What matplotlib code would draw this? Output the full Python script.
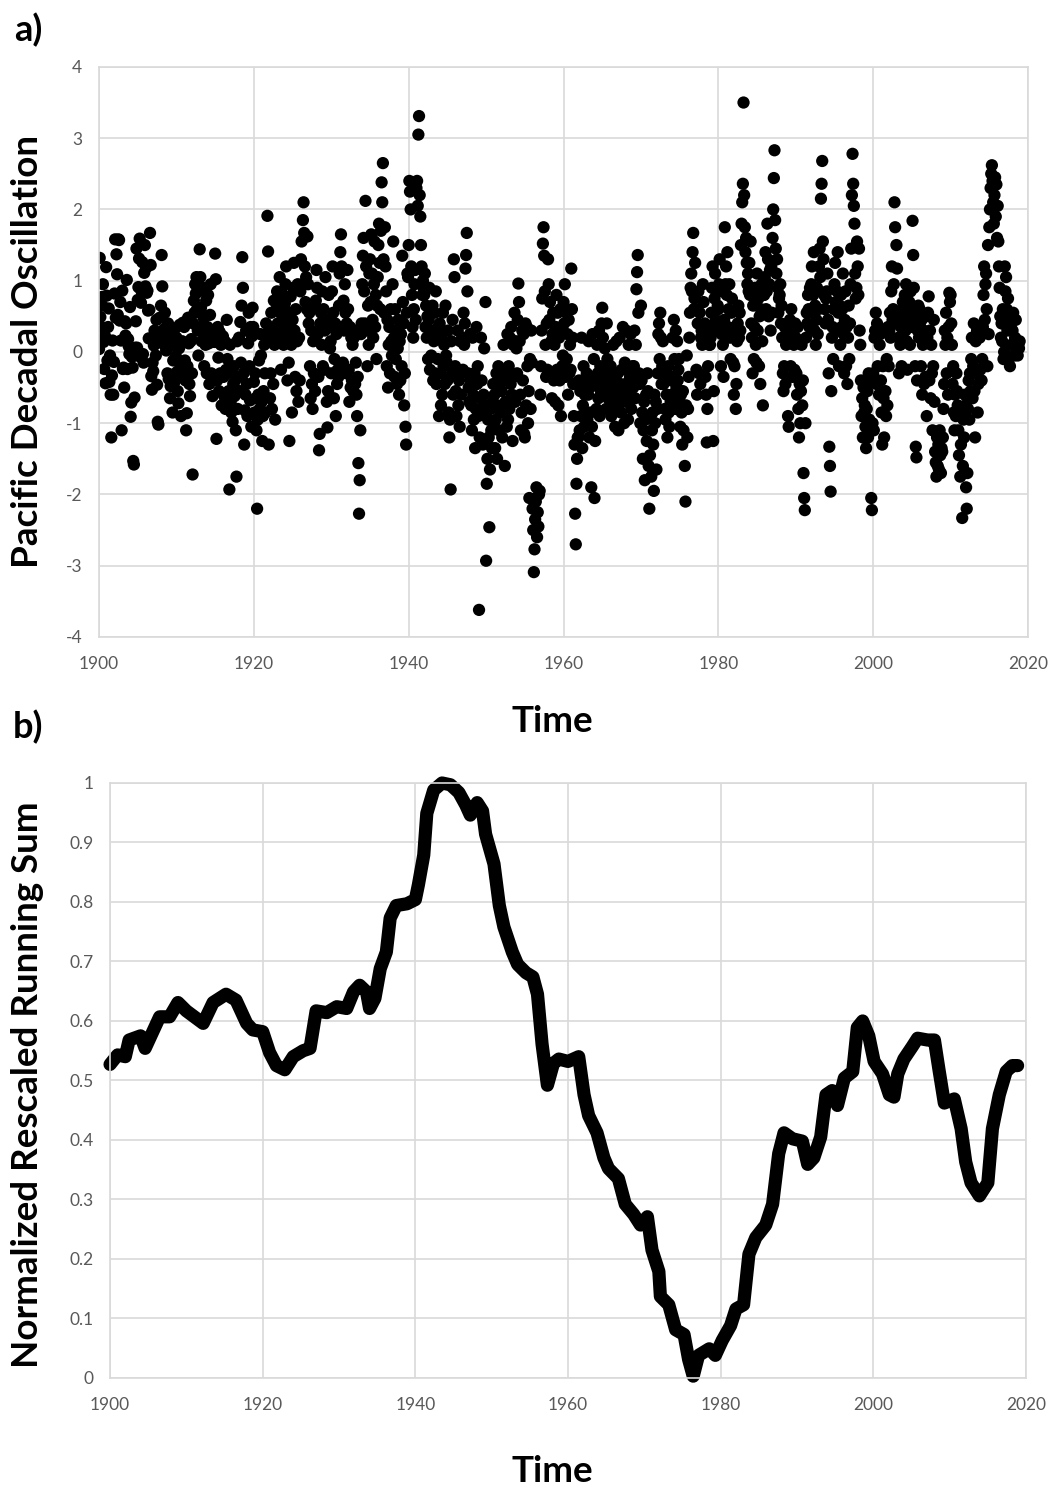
import matplotlib
matplotlib.use("Agg")
import matplotlib.pyplot as plt
from matplotlib.ticker import FuncFormatter
import numpy as np

# monthly PDO values, one list per decade
pdo_1900s = [
    0.04, 1.32, 0.49, 0.35, 0.77, 0.65, 0.95, 0.14, -0.24, 0.23, -0.44, 1.19,
    0.79, -0.12, 0.35, 0.61, -0.42, -0.05, -0.60, -1.20, -0.33, 0.16, -0.60, -0.14,
    0.82, 1.58, 0.48, 1.37, 1.09, 0.52, 1.58, 1.57, 0.44, 0.70, 0.16, -1.10,
    0.86, -0.24, -0.22, -0.50, 0.43, 0.23, 0.40, 1.01, -0.24, 0.18, 0.08, -0.03,
    0.63, -0.91, -0.71, -0.07, -0.22, -1.53, -1.58, -0.64, 0.06, 0.43, 1.45, 0.06,
    0.73, 0.91, 1.31, 1.59, -0.07, 0.69, 0.85, 1.26, -0.03, -0.15, 1.11, 1.50,
    0.92, 1.18, 0.83, 0.86, 0.58, 0.19, 0.59, 1.67, 1.22, -0.34, -0.53, -0.15,
    -0.27, 0.09, 0.30, 0.12, -0.05, 0.45, -0.46, -0.98, -1.02, 0.22, 0.48, 0.25,
    0.65, 1.36, 0.92, 0.24, 0.11, 0.32, 0.55, 0.18, 0.02, 0.27, -0.30, 0.40,
    -0.38, 0.10, -0.65, -0.48, 0.21, -0.32, -0.85, -0.12, 0.09, -0.42, 0.33, -0.06,
]
pdo_1910s = [
    0.20, -0.28, -0.55, -0.72, 0.05, 0.38, -0.18, -0.90, -0.35, 0.15, 0.41, -0.22,
    0.35, -0.12, -0.40, -1.10, -0.86, -0.20, 0.48, 0.12, -0.45, -0.62, 0.15, 0.18,
    -0.30, -1.72, 0.40, 0.72, 0.55, 0.95, 0.82, 1.05, 0.60, 0.30, -0.05, 0.85,
    1.44, 1.05, 0.62, 0.15, 0.35, 0.90, 0.48, -0.20, 0.25, 0.10, 0.72, -0.30,
    0.35, 0.80, 0.12, -0.45, 0.52, 0.95, -0.30, 0.20, -0.62, 0.30, 0.15, 0.14,
    1.38, 1.02, -1.22, -0.40, 0.35, -0.08, -0.55, 0.28, -0.30, 0.10, -0.75, 0.17,
    0.22, -0.35, -0.62, 0.15, -0.80, -0.25, 0.45, -0.10, -0.72, -0.55, -1.93, 0.10,
    -0.70, -0.85, -0.30, -0.98, -0.45, -0.20, -0.62, -0.40, -1.10, -1.75, 0.15, -0.80,
    -0.35, 0.20, -0.55, 0.42, -0.15, 0.65, 1.33, 0.90, -0.30, -1.30, -0.82, -0.60,
    0.30, -0.45, -0.90, 0.12, 0.55, -0.20, -0.68, 0.35, -1.05, 0.22, 0.62, 0.35,
]
pdo_1920s = [
    -0.42, -0.85, -0.30, -0.65, -1.10, -2.20, -0.95, -0.60, -0.12, -0.80, 0.25, -0.05,
    -0.70, -1.25, -0.90, -0.55, 0.10, -0.30, -0.85, 0.40, 0.25, 1.91, 1.41, -1.30,
    0.35, -0.65, -0.30, 0.55, -0.80, 0.20, -0.45, 0.72, 0.10, -0.95, 0.25, 0.60,
    0.85, 0.40, 0.72, 0.15, 1.05, 0.55, -0.25, 0.30, 0.82, 0.65, 0.10, 0.45,
    0.68, 0.95, 1.20, 0.35, -0.40, 0.20, -0.15, -1.25, 0.55, 0.78, 0.10, -0.85,
    0.45, 0.90, 1.25, 0.30, -0.35, 0.60, -0.55, 0.15, 0.95, -0.70, 0.20, -0.40,
    0.85, 1.30, 1.55, 0.95, 1.85, 2.10, 1.67, 1.20, 0.70, 1.05, 0.60, 1.62,
    0.95, 0.40, 0.55, -0.20, -0.65, 0.30, -0.45, -0.80, 0.15, -0.30, 0.62, -0.55,
    0.72, 1.15, 0.90, 0.25, -0.35, -1.38, -1.15, 0.40, 0.55, 0.10, 0.85, -0.20,
    0.60, -0.25, 0.30, 1.05, 0.45, -0.70, -1.06, -0.55, 0.80, 0.35, 0.05, 0.15,
]
pdo_1930s = [
    -0.30, 0.85, 1.20, 0.55, -0.65, -0.10, 0.40, -0.90, 0.25, -0.45, -0.25, -0.35,
    0.65, 1.10, 1.40, 1.65, 1.20, 0.35, -0.15, 0.72, 0.30, 0.95, 0.55, -0.30,
    0.40, 1.15, 0.60, -0.25, -0.70, 0.35, -0.50, 0.20, -0.40, 0.10, -0.55, 0.20,
    0.30, -0.45, -0.15, -0.60, -0.90, -0.35, -1.56, -2.27, -1.80, -1.10, 0.25, 0.40,
    0.95, 1.35, 1.60, 0.85, 0.40, 2.12, 1.20, 0.30, -0.20, 0.65, 0.10, 1.10,
    1.30, 0.70, 1.65, 1.10, 0.45, 0.20, 0.95, 1.55, 0.35, 0.80, -0.10, 0.65,
    1.05, 1.50, 1.80, 1.25, 0.60, 1.70, 2.38, 2.10, 2.65, 1.30, 0.55, 1.75,
    1.20, 0.85, -0.20, 0.45, -0.50, 0.10, 0.35, -0.30, 0.60, 0.15, -0.05, 0.95,
    1.55, 0.20, -0.35, 0.60, -0.10, 0.30, -0.45, 0.05, 0.45, -0.60, 0.15, -0.40,
    0.25, -0.20, 1.35, 0.70, 0.40, -0.75, -0.30, -1.05, -1.30, 0.55, 1.10, 1.05,
]
pdo_1940s = [
    1.50, 2.40, 2.25, 2.00, 1.20, 0.80, 0.35, 0.20, 0.60, 0.95, 1.15, 0.45,
    2.30, 2.40, 2.05, 3.05, 3.31, 2.20, 1.90, 1.50, 1.20, 0.80, 1.00, 0.90,
    0.80, 1.10, 0.35, 0.65, 0.20, 0.50, -0.10, 0.45, 0.90, -0.25, 0.60, -0.05,
    0.30, 0.65, -0.40, 0.15, 0.55, -0.30, 0.85, -0.45, 0.20, -0.10, 0.35, -0.90,
    0.40, -0.30, -0.75, 0.20, -0.60, 0.55, -0.20, 0.10, -0.45, 0.65, -0.05, -0.15,
    -0.40, 0.30, -0.85, -1.20, -0.95, -1.93, 0.15, -0.30, 0.45, -0.60, 1.30, 1.05,
    -0.20, -0.55, -0.90, -0.35, 0.30, -0.75, -0.40, -1.05, 0.15, -0.60, -0.30, 0.20,
    -0.25, 0.55, 0.10, 0.40, 1.17, 1.36, 1.67, 0.85, -0.30, -0.50, -0.70, 0.25,
    -0.40, -0.75, -1.10, 0.20, -0.60, -0.95, -0.30, -1.35, -0.80, 0.35, -0.45, -0.20,
    -0.90, -3.62, -1.20, -0.65, 0.20, -0.40, -0.85, -1.30, -0.60, 0.05, -0.75, 0.70,
]
pdo_1950s = [
    -2.93, -1.85, -1.50, -0.95, -1.20, -2.46, -1.65, -0.80, -1.10, -1.35, -0.70, -0.45,
    -1.00, -0.60, -1.35, -0.95, -0.30, -1.50, -0.75, -0.20, -1.10, -0.45, -0.85, -0.25,
    -0.55, -1.20, -0.40, 0.10, -0.85, -1.60, -0.70, -0.30, -1.05, 0.25, -0.95, -0.20,
    -0.80, 0.20, -0.45, 0.35, -0.60, -1.25, 0.10, -0.35, 0.55, -0.70, 0.15, 0.05,
    -0.30, 0.45, 0.96, 0.70, 0.15, -0.60, -1.10, -0.85, 0.30, -0.40, 0.25, -1.15,
    -1.20, 0.40, -0.75, 0.35, -0.20, -1.00, -0.55, -2.05, -0.10, -0.80, 0.30, -0.15,
    -2.20, -2.50, -3.09, -2.77, -2.35, -2.10, -1.90, -2.60, -2.25, -2.45, -2.00, -1.95,
    -0.60, -0.20, 0.30, 0.75, 1.52, 1.75, 1.35, 0.85, 0.10, -0.35, 0.40, -0.25,
    1.30, 0.95, 0.45, 0.70, -0.30, 0.15, -0.65, 0.25, 0.55, -0.40, 0.10, -0.70,
    0.35, 0.80, -0.25, 0.55, -0.75, 0.20, -0.40, 0.60, -0.90, 0.30, -0.20, -0.05,
]
pdo_1960s = [
    0.70, 0.40, 0.95, -0.35, 0.55, -0.10, 0.25, -0.60, 0.45, -0.30, 0.10, -0.25,
    1.17, 0.60, 0.20, -0.45, -0.90, -1.30, -2.27, -2.70, -1.85, -1.50, -1.20, -1.20,
    -0.40, -1.10, -0.55, -0.90, 0.20, -1.35, -0.75, -0.20, -1.05, -0.60, -0.85, -0.45,
    -0.30, -0.95, -0.60, 0.15, -1.20, -0.50, -0.85, -1.90, -1.05, 0.25, -0.40, -0.10,
    -2.05, -1.25, -0.45, -0.80, 0.10, -0.30, -0.65, 0.30, -0.90, -0.20, -0.55, 0.40,
    0.62, 0.20, -0.35, -0.60, 0.05, -0.45, -0.80, 0.40, -0.10, -0.65, -0.25, -0.45,
    -0.55, -0.20, -0.90, -0.35, -0.65, 0.10, -0.75, -0.40, -1.05, -0.30, 0.15, -0.50,
    -0.30, -1.10, -0.60, 0.20, -0.45, -0.85, -0.25, -0.70, 0.35, -0.55, -1.00, -0.15,
    -0.45, 0.30, -0.70, -0.20, -0.95, 0.10, -0.55, -0.35, 0.25, -0.80, -0.40, -0.20,
    -0.50, -0.20, 0.30, -0.65, 0.10, 0.88, 1.12, 1.36, 0.55, -0.30, -0.45, -1.00,
]
pdo_1970s = [
    0.65, -0.40, -0.85, -1.50, -1.10, -0.70, -1.80, -0.95, -0.60, -1.25, -0.30, -0.55,
    -1.60, -2.20, -1.45, -0.90, -1.75, -1.10, -0.85, -1.30, -1.95, -0.60, -1.00, -0.70,
    -1.65, -0.80, -0.30, 0.25, 0.40, -0.10, 0.55, 0.20, -0.45, -0.20, 0.15, -0.45,
    -0.30, -0.80, -0.95, -0.40, -0.60, -1.20, -0.20, -0.85, -1.05, -0.35, -0.70, -0.40,
    -0.60, 0.20, -0.35, 0.45, -0.10, -0.80, 0.30, -0.50, 0.15, -0.40, -0.25, -0.10,
    -0.70, -1.05, -0.60, -0.85, -1.30, -0.55, -1.10, -0.80, -1.60, -2.10, -0.75, -0.05,
    -1.20, -0.80, -0.35, 0.20, 0.55, 0.90, 1.10, 0.85, 1.40, 1.67, 0.60, 0.75,
    1.25, 0.60, -0.25, -0.60, 0.40, 0.85, -0.30, 0.55, -0.45, 0.20, 0.30, 0.10,
    0.95, 0.70, 0.25, 0.40, -0.35, -0.60, -1.27, -0.80, -0.20, 0.35, 0.10, 0.10,
    0.20, 0.55, 0.90, 1.20, -1.25, -0.55, 0.75, 1.10, 0.45, 0.85, 0.30, 0.65,
]
pdo_1980s = [
    0.60, 0.95, 1.30, 0.40, -0.20, 0.25, 0.85, 0.10, -0.35, 0.45, 1.75, 0.95,
    1.20, 0.80, 1.40, 0.35, 0.60, 0.95, 0.20, -0.10, 0.55, 0.75, 0.30, -0.15,
    -0.60, -0.20, 0.35, -0.80, -0.45, 0.15, 0.40, 0.65, 0.20, 0.55, 0.30, 1.50,
    1.80, 2.10, 2.36, 3.50, 2.20, 1.75, 1.40, 1.60, 1.25, 0.95, 1.10, 0.85,
    1.25, 0.80, 1.55, 0.40, 0.20, -0.30, 0.65, -0.10, 0.35, 0.90, 0.10, -0.15,
    1.10, 0.30, 0.75, -0.20, 0.50, -0.45, 0.60, 0.95, 0.15, -0.75, 0.80, 0.80,
    1.05, 1.40, 0.60, 0.85, 1.80, 1.30, 0.50, 0.95, 1.15, 0.30, 1.20, 0.55,
    1.60, 2.00, 2.44, 2.83, 1.85, 1.45, 1.10, 1.30, 0.90, 0.55, 0.75, 0.80,
    0.95, 0.40, 0.65, 0.20, -0.30, -0.55, -0.20, 0.35, -0.45, 0.10, 0.30, 0.15,
    -0.90, -1.05, 0.30, 0.45, -0.20, 0.60, 0.15, -0.35, 0.40, 0.10, -0.25, 0.40,
]
pdo_1990s = [
    0.20, -0.30, -0.60, 0.35, -0.80, -1.20, -0.45, -1.00, -0.55, 0.10, -0.75, -0.40,
    -1.70, -2.05, -2.22, -1.00, 0.20, 0.55, 0.40, 0.80, 0.60, 0.35, 0.90, 0.85,
    0.95, 1.20, 0.55, 0.80, 1.40, 0.30, 0.65, 0.10, 0.45, 0.90, 0.25, 0.60,
    1.20, 1.45, 1.05, 2.15, 2.36, 2.68, 1.55, 1.30, 0.80, 0.60, 0.40, 0.75,
    0.85, 1.10, 0.45, -0.30, -1.33, -1.60, -1.96, -0.55, 0.20, 0.35, -0.10, 0.60,
    0.95, 1.25, 0.70, 0.30, 0.85, 1.40, 0.55, -0.20, 0.65, 0.10, 0.80, 0.35,
    0.60, 1.10, 0.25, -0.30, 0.45, 0.85, -0.20, 0.35, -0.45, 0.20, 0.65, -0.10,
    0.40, 0.95, 1.45, 2.20, 2.78, 2.36, 2.05, 1.80, 1.10, 0.75, 0.90, 1.55,
    1.20, 0.80, 1.45, 0.30, 0.10, -0.40, -0.90, -0.65, -1.20, -0.50, -0.85, -0.75,
    -1.05, -1.35, -0.80, -0.55, -1.20, -0.30, -0.95, -0.40, -1.10, -2.05, -2.22, -1.00,
]
pdo_2000s = [
    -0.30, -1.10, 0.20, 0.30, 0.55, -0.45, 0.40, -0.20, 0.35, -0.60, 0.10, 0.25,
    -0.40, -0.85, -1.30, -0.20, -0.65, -1.20, 0.30, -0.55, -0.90, -0.10, -0.75, 0.35,
    -0.20, 0.30, 0.55, 0.20, 0.85, 1.20, 0.45, 0.60, 0.95, 2.10, 1.75, 0.40,
    1.50, 1.17, 0.40, 0.20, -0.30, 0.55, 0.10, 0.35, -0.20, 0.45, 0.70, 0.60,
    0.50, 0.80, 0.30, 0.95, 0.15, -0.25, 0.60, 0.40, 0.70, 0.10, 0.85, 0.35,
    0.45, 1.84, 1.36, 0.90, 0.55, -0.20, -1.33, -1.48, -0.40, 0.30, 0.65, 0.20,
    0.60, 0.35, -0.20, 0.45, -0.60, 0.10, 0.30, -0.45, 0.20, -0.35, 0.50, -0.90,
    0.20, 0.55, 0.78, -0.40, 0.30, -0.65, 0.10, -0.30, -1.10, -0.20, 0.45, -0.70,
    -1.40, -1.55, -1.75, -1.20, -1.60, -1.30, -1.65, -1.10, -1.45, -1.70, -1.35, -1.40,
    -1.20, -0.80, -0.45, 0.30, 0.10, 0.55, -0.30, 0.20, -0.60, 0.35, 0.83, 0.70,
]
pdo_2010s = [
    0.80, 0.40, 0.10, -0.45, -0.20, -0.85, -1.10, -0.60, -0.90, -0.30, -0.55, -0.75,
    -1.10, -1.45, -0.90, -1.75, -1.30, -0.85, -2.33, -1.60, -0.95, -1.20, -0.60, -0.75,
    -1.90, -2.20, -1.70, -0.80, -0.40, -0.95, -0.30, -0.55, -0.10, 0.20, -0.65, -0.20,
    0.40, -0.55, -1.20, 0.15, -0.30, 0.30, -0.85, -0.45, 0.35, 0.20, -0.25, 0.25,
    -0.40, -0.10, 0.35, 0.80, 1.20, 0.45, 0.95, 1.10, 0.60, -0.20, 1.50, 0.25,
    1.75, 2.00, 2.30, 2.50, 2.62, 2.40, 2.10, 1.80, 2.20, 2.45, 1.90, 2.35,
    1.60, 2.05, 1.55, 1.20, 0.90, 0.50, 0.20, 0.40, 0.15, 0.60, -0.10, 0.00,
    1.20, 0.85, 1.05, 0.60, 0.30, 0.75, -0.10, 0.45, -0.20, 0.35, 0.10, 0.50,
    0.30, 0.55, 0.10, -0.05, 0.20, 0.45, 0.00, 0.15, -0.05, 0.10, 0.05, 0.15,
]

# normalized rescaled running sum
rs_years = [
    1900.0, 1901.0, 1902.0, 1902.5, 1904.0, 1904.6, 1905.6, 1906.5, 1907.8, 1908.9,
    1910.0, 1912.2, 1913.5, 1915.2, 1916.5, 1917.9, 1918.7, 1920.0, 1920.9, 1921.8,
    1922.9, 1924.0, 1925.3, 1926.2, 1927.0, 1928.4, 1929.7, 1931.0, 1931.9, 1932.7,
    1933.6, 1934.0, 1934.7, 1935.4, 1936.2, 1936.7, 1937.5, 1938.9, 1940.0, 1940.4,
    1941.1, 1941.5, 1942.4, 1943.5, 1944.6, 1945.7, 1946.6, 1947.2, 1948.1, 1948.8,
    1949.2, 1950.3, 1951.0, 1951.6, 1952.7, 1953.4, 1954.5, 1955.4, 1956.0, 1956.6,
    1957.3, 1958.1, 1958.8, 1960.0, 1961.4, 1962.1, 1962.7, 1963.8, 1964.7, 1965.3,
    1966.6, 1967.5, 1968.6, 1969.5, 1970.4, 1971.0, 1971.9, 1972.1, 1973.2, 1974.1,
    1975.2, 1975.8, 1976.4, 1977.1, 1978.5, 1979.3, 1980.2, 1981.3, 1982.0, 1983.0,
    1983.7, 1984.6, 1985.9, 1986.8, 1987.6, 1988.3, 1989.4, 1990.7, 1991.4, 1992.2,
    1993.1, 1993.8, 1994.6, 1995.3, 1996.2, 1997.3, 1997.9, 1998.6, 1999.4, 2000.1,
    2001.2, 2002.1, 2002.7, 2003.2, 2004.0, 2005.1, 2005.8, 2007.1, 2008.0, 2008.6,
    2009.3, 2010.6, 2011.5, 2012.1, 2012.8, 2013.9, 2015.0, 2015.6, 2016.5, 2017.4,
    2018.2, 2018.9,
]
rs_values = [
    0.527, 0.543, 0.540, 0.568, 0.575, 0.554, 0.582, 0.607, 0.607, 0.631,
    0.617, 0.596, 0.631, 0.645, 0.635, 0.596, 0.585, 0.582, 0.547, 0.525,
    0.518, 0.540, 0.550, 0.554, 0.617, 0.614, 0.624, 0.621, 0.649, 0.660,
    0.649, 0.621, 0.638, 0.688, 0.716, 0.773, 0.794, 0.797, 0.804, 0.829,
    0.879, 0.949, 0.988, 1.000, 0.997, 0.984, 0.963, 0.946, 0.967, 0.953,
    0.914, 0.864, 0.794, 0.758, 0.716, 0.695, 0.681, 0.674, 0.645, 0.561,
    0.492, 0.529, 0.536, 0.532, 0.540, 0.476, 0.441, 0.412, 0.370, 0.352,
    0.335, 0.292, 0.275, 0.257, 0.271, 0.215, 0.179, 0.137, 0.123, 0.081,
    0.073, 0.031, 0.003, 0.038, 0.049, 0.038, 0.063, 0.088, 0.116, 0.123,
    0.208, 0.236, 0.257, 0.292, 0.377, 0.412, 0.402, 0.398, 0.359, 0.370,
    0.405, 0.476, 0.483, 0.458, 0.504, 0.515, 0.589, 0.600, 0.575, 0.532,
    0.511, 0.476, 0.472, 0.511, 0.536, 0.557, 0.571, 0.568, 0.568, 0.518,
    0.462, 0.469, 0.419, 0.363, 0.328, 0.306, 0.328, 0.419, 0.476, 0.515,
    0.525, 0.525,
]

pdo = np.array(pdo_1900s + pdo_1910s + pdo_1920s + pdo_1930s + pdo_1940s
               + pdo_1950s + pdo_1960s + pdo_1970s + pdo_1980s + pdo_1990s
               + pdo_2000s + pdo_2010s)
pdo_time = 1900 + np.arange(len(pdo)) / 12.0

FONT = ["Lato", "DejaVu Sans"]
plt.rcParams["font.family"] = FONT
GRID = "#d9d9d9"
TICK = "#595959"


def style_axes(ax):
    ax.grid(True, color=GRID, linewidth=1.2)
    ax.set_axisbelow(True)
    for sp in ax.spines.values():
        sp.set_color(GRID)
        sp.set_linewidth(1.2)
    ax.tick_params(length=0, colors=TICK, labelsize=12.5)
    ax.tick_params(axis="x", pad=14)
    ax.tick_params(axis="y", pad=12)
    ax.set_xlim(1900, 2020)
    ax.set_xticks(range(1900, 2021, 20))
    ax.yaxis.set_major_formatter(FuncFormatter(lambda v, p: "{:g}".format(round(v, 2))))


fig = plt.figure(figsize=(10.56, 14.90), dpi=100)

ax1 = fig.add_axes([0.0938, 0.5725, 0.8797, 0.3826])
ax1.scatter(pdo_time, pdo, s=78, color="black", edgecolors="none")
style_axes(ax1)
ax1.set_ylim(-4, 4)
ax1.set_yticks(range(-4, 5))

ax2 = fig.add_axes([0.1042, 0.0752, 0.8674, 0.3993])
ax2.plot(rs_years, rs_values, color="black", linewidth=9.5,
         solid_joinstyle="round", solid_capstyle="round", clip_on=False)
style_axes(ax2)
ax2.set_ylim(0, 1)
ax2.set_yticks(np.arange(0, 1.01, 0.1))

fig.text(28 / 1056, 1 - 30 / 1490, "a)", fontsize=26, fontweight="bold", va="center", ha="center")
fig.text(28 / 1056, 1 - 727 / 1490, "b)", fontsize=26, fontweight="bold", va="center", ha="center")
fig.text(28 / 1056, 1 - 352 / 1490, "Pacific Decadal Oscillation", rotation=90,
         fontsize=26.5, fontweight="bold", va="center", ha="center")
fig.text(28 / 1056, 1 - 1085 / 1490, "Normalized Rescaled Running Sum", rotation=90,
         fontsize=26.5, fontweight="bold", va="center", ha="center")
fig.text(552 / 1056, 1 - 722 / 1490, "Time", fontsize=26.5, fontweight="bold",
         va="center", ha="center")
fig.text(552 / 1056, 1 - 1472 / 1490, "Time", fontsize=26.5, fontweight="bold",
         va="center", ha="center")

fig.savefig("out.png", dpi=100)
